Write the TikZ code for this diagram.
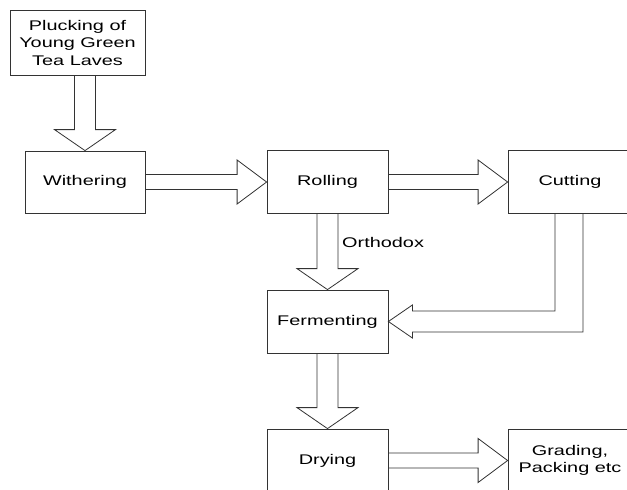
\documentclass[tikz,border=0pt]{standalone}
\usepackage{fontspec}
\setmainfont{Liberation Sans}[FakeStretch=1.42]
\usepackage{tikz}
\usetikzlibrary{positioning}

\tikzset{
  stage/.style={draw=black!80, line width=0.8pt, minimum width=121pt, minimum height=63pt,
    align=center, inner sep=0pt, font=\fontsize{14}{17.5}\selectfont},
  blockarrow/.style={draw=black!80, line width=0.8pt},
  lbl/.style={inner sep=0pt, font=\fontsize{14}{17.5}\selectfont}
}

\begin{document}
\begin{tikzpicture}[x=1pt,y=-1pt]
\clip (0,0) rectangle (627,490);
% process steps
\node[stage, minimum width=135pt, minimum height=65pt] (pluck) at (77.5,42.5) {Plucking of\\Young Green\\Tea Laves};
\node[stage, minimum width=120pt, minimum height=62pt] (with) at (85,182) {Withering};
\node[stage] (roll) at (327.5,182) {Rolling};
\node[stage, minimum width=124pt] (cut) at (570,182) {Cutting};
\node[stage] (ferm) at (327.5,321.5) {Fermenting};
\node[stage] (dry) at (327.5,460.5) {Drying};
\node[stage, minimum width=124pt] (grade) at (570,460.5) {Grading,\\Packing etc};
\node[lbl, anchor=west] (ortho) at (342,242) {Orthodox};
% vertical block arrows
\coordinate (a1) at (with.north |- pluck.south);
\draw[blockarrow] ([xshift=-10.5pt]a1) -- ([xshift=-10.5pt,yshift=21pt]with.north) -- ([xshift=-30.5pt,yshift=21pt]with.north) -- (with.north) -- ([xshift=30.5pt,yshift=21pt]with.north) -- ([xshift=10.5pt,yshift=21pt]with.north) -- ([xshift=10.5pt]a1);
\draw[blockarrow] ([xshift=-10.5pt]roll.south) -- ([xshift=-10.5pt,yshift=21pt]ferm.north) -- ([xshift=-30.5pt,yshift=21pt]ferm.north) -- (ferm.north) -- ([xshift=30.5pt,yshift=21pt]ferm.north) -- ([xshift=10.5pt,yshift=21pt]ferm.north) -- ([xshift=10.5pt]roll.south);
\draw[blockarrow] ([xshift=-10.5pt]ferm.south) -- ([xshift=-10.5pt,yshift=21pt]dry.north) -- ([xshift=-30.5pt,yshift=21pt]dry.north) -- (dry.north) -- ([xshift=30.5pt,yshift=21pt]dry.north) -- ([xshift=10.5pt,yshift=21pt]dry.north) -- ([xshift=10.5pt]ferm.south);
% horizontal block arrows
\draw[blockarrow] ([yshift=7.5pt]with.east) -- ([xshift=-29.5pt,yshift=7.5pt]roll.west) -- ([xshift=-29.5pt,yshift=22pt]roll.west) -- (roll.west) -- ([xshift=-29.5pt,yshift=-22pt]roll.west) -- ([xshift=-29.5pt,yshift=-7.5pt]roll.west) -- ([yshift=-7.5pt]with.east);
\draw[blockarrow] ([yshift=7.5pt]roll.east) -- ([xshift=-29.5pt,yshift=7.5pt]cut.west) -- ([xshift=-29.5pt,yshift=22pt]cut.west) -- (cut.west) -- ([xshift=-29.5pt,yshift=-22pt]cut.west) -- ([xshift=-29.5pt,yshift=-7.5pt]cut.west) -- ([yshift=-7.5pt]roll.east);
\draw[blockarrow] ([yshift=7.5pt]dry.east) -- ([xshift=-29.5pt,yshift=7.5pt]grade.west) -- ([xshift=-29.5pt,yshift=22pt]grade.west) -- (grade.west) -- ([xshift=-29.5pt,yshift=-22pt]grade.west) -- ([xshift=-29.5pt,yshift=-7.5pt]grade.west) -- ([yshift=-7.5pt]dry.east);
% bent arrow back from cutting
\coordinate (c1) at ([xshift=-15pt]cut.south);
\coordinate (c2) at ([xshift=13pt]cut.south);
\coordinate (f1) at ([xshift=24pt,yshift=10.5pt]ferm.east);
\coordinate (f2) at ([xshift=24pt,yshift=-10.5pt]ferm.east);
\draw[blockarrow] (c1) |- (f1) -- ([xshift=24pt,yshift=16.5pt]ferm.east) -- (ferm.east) -- ([xshift=24pt,yshift=-16.5pt]ferm.east) -- (f2) -| (c2);
\end{tikzpicture}
\end{document}
